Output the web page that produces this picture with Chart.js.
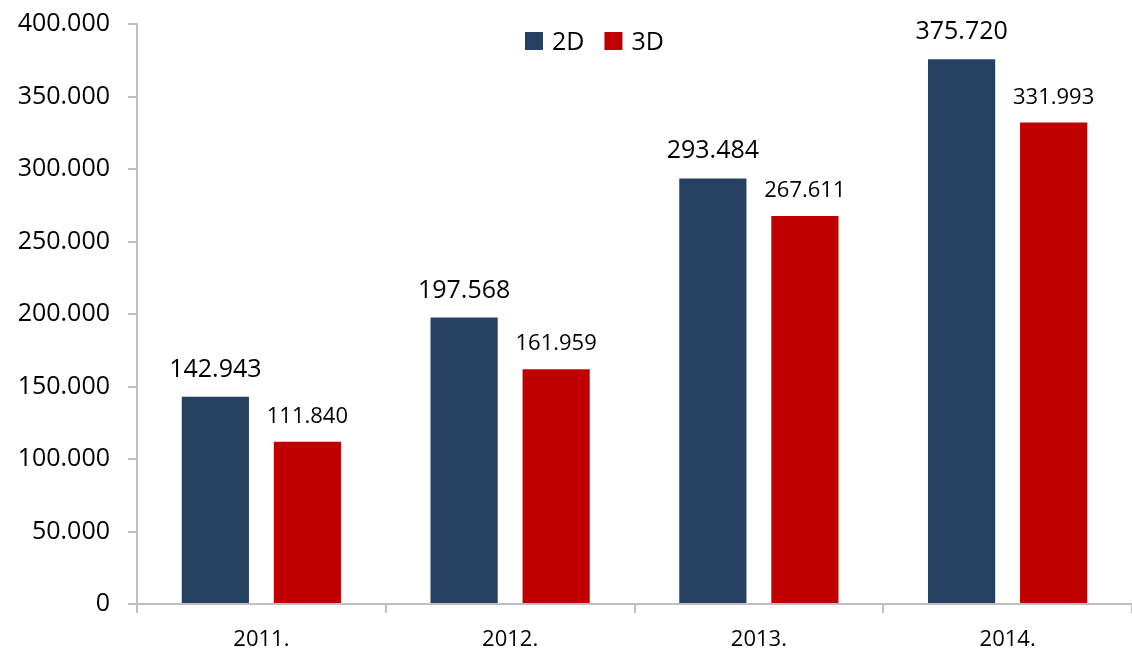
<!DOCTYPE html>
<html>
<head>
<meta charset="utf-8">
<script src="https://cdn.jsdelivr.net/npm/chart.js@4"></script>
<style>
  body { margin: 0; background: #fff; }
</style>
</head>
<body>
<canvas id="salesChart" width="1132" height="655"></canvas>
<script>
const years = ['2011.', '2012.', '2013.', '2014.'];
const values2D = [142943, 197568, 293484, 375720];
const values3D = [111840, 161959, 267611, 331993];
const seriesNames = ['2D', '3D'];
const seriesColors = ['#264061', '#C00000'];

const fontFamily = "'Open Sans', 'DejaVu Sans', sans-serif";

function formatNumber(v) {
    return String(v).replace(/\B(?=(\d{3})+(?!\d))/g, '.');
}

// value labels above the bars + legend drawn inside plot area
const labelsPlugin = {
    id: 'barLabels',
    afterDatasetsDraw(chart) {
        const ctx = chart.ctx;
        const sizes = [25, 22];
        const gaps = [20, 19];
        ctx.save();
        ctx.fillStyle = '#000';
        ctx.textAlign = 'center';
        ctx.textBaseline = 'alphabetic';
        chart.data.datasets.forEach((ds, i) => {
            ctx.font = sizes[i] + 'px ' + fontFamily;
            chart.getDatasetMeta(i).data.forEach((bar, j) => {
                ctx.fillText(formatNumber(ds.data[j]), bar.x, bar.y - gaps[i]);
            });
        });

        // legend
        ctx.font = '25px ' + fontFamily;
        ctx.textAlign = 'left';
        let x = 525;
        const boxTop = 32;
        const box = 18;
        chart.data.datasets.forEach((ds) => {
            ctx.fillStyle = ds.backgroundColor;
            ctx.fillRect(x, boxTop, box, box);
            ctx.fillStyle = '#000';
            ctx.fillText(ds.label, x + box + 9, boxTop + box);
            x += box + 9 + ctx.measureText(ds.label).width + 20;
        });
        ctx.restore();
    }
};

const ctx = document.getElementById('salesChart');
new Chart(ctx, {
    type: 'bar',
    data: {
        labels: years,
        datasets: [
            {
                label: seriesNames[0],
                data: values2D,
                backgroundColor: seriesColors[0],
                barPercentage: 0.73,
                categoryPercentage: 0.74
            },
            {
                label: seriesNames[1],
                data: values3D,
                backgroundColor: seriesColors[1],
                barPercentage: 0.73,
                categoryPercentage: 0.74
            }
        ]
    },
    options: {
        responsive: false,
        animation: false,
        devicePixelRatio: 1,
        layout: {
            padding: { top: 24, right: 0, left: 0, bottom: 0 }
        },
        plugins: {
            legend: { display: false },
            tooltip: { enabled: false }
        },
        scales: {
            x: {
                grid: {
                    offset: true,
                    drawOnChartArea: false,
                    tickLength: 9,
                    color: '#bfbfbf',
                    lineWidth: 2
                },
                border: { color: '#bfbfbf', width: 2 },
                ticks: {
                    color: '#000',
                    padding: 14,
                    font: { family: fontFamily, size: 22 }
                },
                afterFit: (scale) => {
                    scale.height = 51;
                    scale.paddingLeft = 0;
                    scale.paddingRight = 0;
                }
            },
            y: {
                min: 0,
                max: 400000,
                grid: {
                    drawOnChartArea: false,
                    tickLength: 9,
                    color: '#bfbfbf',
                    lineWidth: 2
                },
                border: { color: '#bfbfbf', width: 2 },
                ticks: {
                    stepSize: 50000,
                    color: '#000',
                    padding: 18,
                    font: { family: fontFamily, size: 25 },
                    callback: (v) => formatNumber(v)
                },
                afterFit: (scale) => {
                    scale.width = 137;
                    scale.paddingTop = 0;
                    scale.paddingBottom = 0;
                }
            }
        }
    },
    plugins: [labelsPlugin]
});
</script>
</body>
</html>
